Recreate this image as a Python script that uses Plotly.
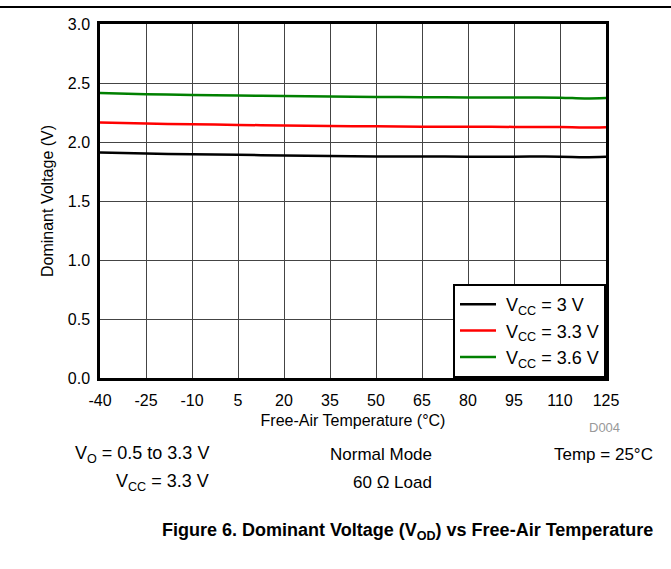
import plotly.graph_objects as go

temps = [-40, -25, -10, 5, 20, 35, 50, 65, 80, 95, 110, 118, 125]
vcc_3 = [1.910, 1.902, 1.896, 1.891, 1.886, 1.881, 1.878, 1.877, 1.876, 1.876, 1.876, 1.871, 1.875]
vcc_33 = [2.165, 2.156, 2.150, 2.145, 2.140, 2.136, 2.133, 2.130, 2.130, 2.128, 2.127, 2.122, 2.126]
vcc_36 = [2.415, 2.405, 2.398, 2.394, 2.390, 2.385, 2.382, 2.380, 2.378, 2.377, 2.376, 2.369, 2.373]
series_names = ["\u00a0V<sub>CC</sub> = 3 V", "\u00a0V<sub>CC</sub> = 3.3 V", "\u00a0V<sub>CC</sub> = 3.6 V"]
series_colors = ["#000000", "#ff0000", "#008000"]
x_ticks = [-40, -25, -10, 5, 20, 35, 50, 65, 80, 95, 110, 125]
x_tick_labels = ["-40", "-25", "-10", "5", "20", "35", "50", "65", "80", "95", "110", "125"]
y_ticks = [0.0, 0.5, 1.0, 1.5, 2.0, 2.5, 3.0]
y_tick_labels = ["0.0", "0.5", "1.0", "1.5", "2.0", "2.5", "3.0"]

FONT = "Liberation Sans, Arial, sans-serif"
fig = go.Figure()
for name, vals, col in zip(series_names, [vcc_3, vcc_33, vcc_36], series_colors):
    fig.add_trace(go.Scatter(x=temps, y=vals, mode="lines", name=name,
                             line=dict(color=col, width=2.5, shape="spline")))

L, R, T, B = 100, 65, 24, 191
W, H = 671, 569
pw, ph = W - L - R, H - T - B

fig.update_layout(
    width=W, height=H, margin=dict(l=L, r=R, t=T, b=B),
    paper_bgcolor="white", plot_bgcolor="white",
    font=dict(family=FONT, size=15, color="black"),
    showlegend=True,
    legend=dict(x=1, y=0, xanchor="right", yanchor="bottom",
                bordercolor="black", borderwidth=2, bgcolor="white",
                font=dict(size=18), tracegroupgap=0, itemwidth=36),
    xaxis=dict(range=[-40, 125], tickvals=x_ticks, ticktext=x_tick_labels, ticks="",
               showgrid=True, gridcolor="#444444", gridwidth=1, showline=True,
               linecolor="black", linewidth=2.5, mirror=True, zeroline=False,
               ticklabelstandoff=6,
               title=dict(text="Free-Air Temperature (°C)", font=dict(size=16), standoff=7),
               tickfont=dict(size=16)),
    yaxis=dict(range=[0, 3], tickvals=y_ticks, ticktext=y_tick_labels, ticks="",
               showgrid=True, gridcolor="#444444", gridwidth=1, showline=True,
               linecolor="black", linewidth=2.5, mirror=True, zeroline=False,
               ticklabelstandoff=4,
               title=dict(text="Dominant Voltage (V)", font=dict(size=16), standoff=11),
               tickfont=dict(size=16)),
)

def px(xp):
    return (xp - L) / pw

def py(yp):
    return (H - B - yp) / ph

fig.add_shape(type="line", xref="paper", yref="paper", x0=px(0), x1=px(W), y0=py(7), y1=py(7),
              line=dict(color="black", width=2))

anns = [
    ("D004", 622, 427, "right", 13, "#999999"),
    ("V<sub>O</sub> = 0.5 to 3.3 V", 211, 454, "right", 18, "black"),
    ("Normal Mode", 434, 454, "right", 17, "black"),
    ("Temp = 25°C", 655, 454, "right", 17, "black"),
    ("V<sub>CC</sub> = 3.3 V", 211, 482, "right", 18, "black"),
    ("60 Ω Load", 434, 482, "right", 17, "black"),
    ("<b>Figure 6. Dominant Voltage (V<sub>OD</sub>) vs Free-Air Temperature</b>", 655, 531, "right", 18, "black"),
]
for text, xp, yp, anchor, size, color in anns:
    fig.add_annotation(text=text, xref="paper", yref="paper", x=px(xp), y=py(yp),
                       xanchor=anchor, yanchor="middle", showarrow=False,
                       font=dict(size=size, color=color, family=FONT))

fig.write_html("out.html", config={"displayModeBar": False},
               post_script="document.body.style.margin='0';")
